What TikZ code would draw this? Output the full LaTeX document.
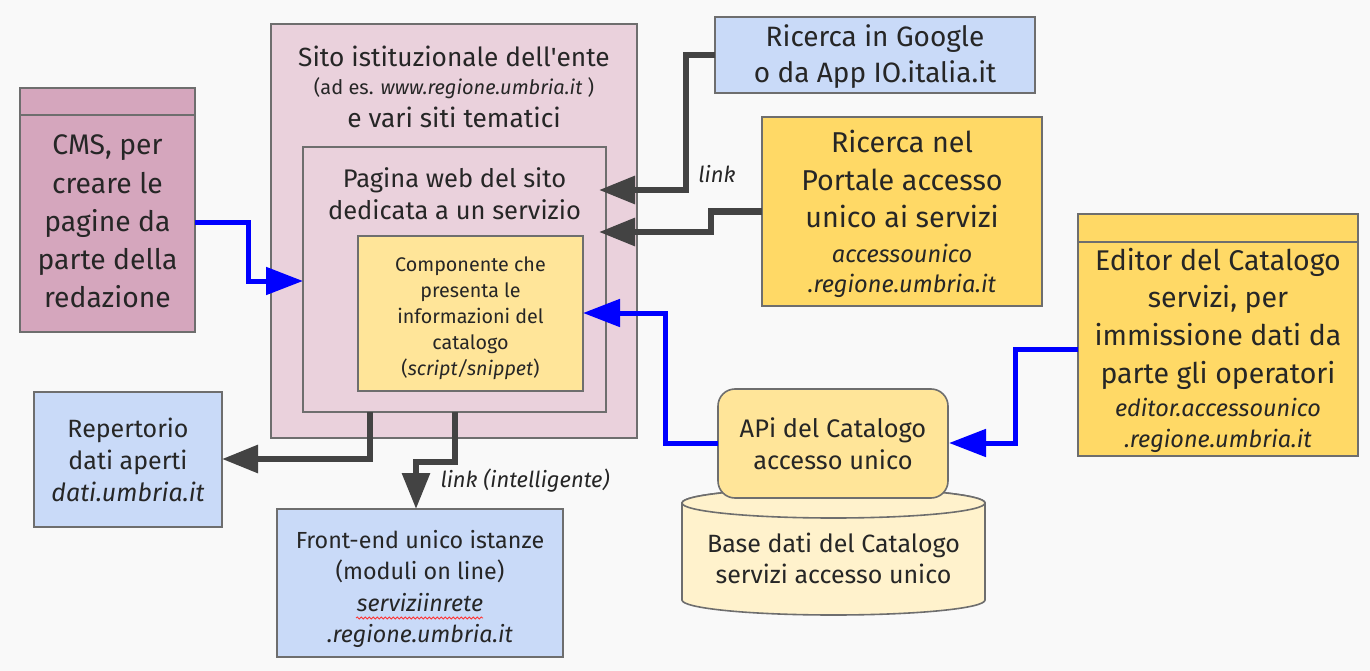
\documentclass[tikz,border=0pt]{standalone}
\usepackage{fontspec}
\setmainfont{Fira Sans}
\usetikzlibrary{arrows.meta,decorations.pathmorphing}
\definecolor{bg}{HTML}{F9F9F9}
\definecolor{mauve}{HTML}{D5A6BD}
\definecolor{pinkl}{HTML}{EAD1DC}
\definecolor{yel}{HTML}{FFE599}
\definecolor{yelm}{HTML}{FFD966}
\definecolor{yell}{HTML}{FFF2CC}
\definecolor{bluel}{HTML}{C9DAF8}
\definecolor{edge}{HTML}{6E6E6E}
\definecolor{ink}{HTML}{262626}
\definecolor{linkgray}{HTML}{434343}
\definecolor{linkblue}{HTML}{0000FF}
\newcommand\ml[3]{{\fontsize{#1}{#2}\selectfont\setlength\tabcolsep{0pt}\renewcommand\arraystretch{1}\begin{tabular}[t]{c}#3\end{tabular}}}
\newcommand\fs[1]{\fontsize{#1}{#1}\selectfont}
\begin{document}
\begin{tikzpicture}[x=1pt,y=-1pt,
  box/.style={draw=edge, line width=1.6pt, inner sep=0pt, outer sep=0pt, anchor=north west},
  txt/.style={text=ink, inner sep=0pt, outer sep=0pt, anchor=base},
  grayarrow/.style={draw=linkgray, line width=6pt, line join=miter, -{Triangle[length=36pt,width=27pt]}},
  bluearrow/.style={draw=linkblue, line width=5pt, line join=miter, -{Triangle[length=37pt,width=27pt]}}]
\useasboundingbox[fill=bg] (0,0) rectangle (1370,671);

% boxes
\node[box, fill=pinkl, minimum width=366pt, minimum height=414pt] (sito) at (271,24) {};
\node[box, fill=pinkl, minimum width=303pt, minimum height=265pt] (pagina) at (303,147) {};
\node[box, fill=yel, minimum width=225pt, minimum height=155pt] (comp) at (358,236) {};
\node[box, fill=mauve, minimum width=175pt, minimum height=244pt] (cms) at (20,88) {};
\draw[draw=edge, line width=1.6pt] ([yshift=-27pt]cms.north west) -- ([yshift=-27pt]cms.north east);
\node[box, fill=bluel, minimum width=320pt, minimum height=76pt] (google) at (715,17) {};
\node[box, fill=yelm, minimum width=280pt, minimum height=189pt] (portale) at (762,117) {};
\node[box, fill=yelm, minimum width=280pt, minimum height=242pt] (editor) at (1078,214) {};
\draw[draw=edge, line width=1.6pt] ([yshift=-28pt]editor.north west) -- ([yshift=-28pt]editor.north east);
\node[box, fill=bluel, minimum width=188pt, minimum height=135pt] (repertorio) at (34,392) {};
\node[box, fill=bluel, minimum width=286pt, minimum height=148pt] (frontend) at (277,509) {};

% database cylinder
\path[fill=yell, draw=edge, line width=1.6pt] (682,503) -- (682,600)
  arc[start angle=180, end angle=360, x radius=151.5pt, y radius=15pt] -- (985,503)
  arc[start angle=0, end angle=180, x radius=151.5pt, y radius=15pt] -- cycle;
\draw[fill=yell, draw=edge, line width=1.6pt] (833.5,503) ellipse[x radius=151.5pt, y radius=15pt];
\node[box, fill=yel, rounded corners=17pt, minimum width=230pt, minimum height=109pt] (api) at (718,389) {};

% texts
\node[txt] (sito1) at (454,67) {\fs{26.3}Sito istituzionale dell\textquotesingle ente};
\node[txt] (sito2) at (454,95) {\fs{20}(ad es. \textit{www.regione.umbria.it} )};
\node[txt] (sito3) at (454,128) {\fs{26.3}e vari siti tematici};
\node[txt] (paginatext) at (454.5,188) {\ml{25.5}{32}{Pagina web del sito\\dedicata a un servizio}};
\node[txt] (comptext) at (470.5,271) {\ml{19.7}{26}{Componente che\\presenta le\\informazioni del\\catalogo\\(\textit{script/snippet})}};
\node[txt] (cmstext) at (107.5,155) {\ml{28.3}{38.25}{CMS, per\\creare le\\pagine da\\parte della\\redazione}};
\node[txt] (googletext) at (875,47) {\ml{28}{36}{Ricerca in Google\\o da App IO.italia.it}};
\node[txt] (portaletext) at (902,153) {\ml{28.7}{37.5}{Ricerca nel\\Portale accesso\\unico ai servizi\\[-2.5pt]{\fs{23.6}\itshape accessounico}\\[-7.5pt]{\fs{23.6}\itshape .regione.umbria.it}}};
\node[txt] (editortext) at (1218,270) {\ml{28.5}{37.7}{Editor del Catalogo\\servizi, per\\immissione dati da\\parte gli operatori\\[-4.7pt]{\fs{23.5}\itshape editor.accessounico}\\[-6.7pt]{\fs{23.5}\itshape .regione.umbria.it}}};
\node[txt] (repertoriotext) at (128,437) {\ml{25}{32}{Repertorio\\dati aperti\\\textit{dati.umbria.it}}};
\node[txt] (frontendtext) at (420,548) {\ml{23.3}{31.5}{Front-end unico istanze\\(moduli on line)\\\textit{serviziinrete}\\\textit{.regione.umbria.it}}};
\node[txt] (apitext) at (833,437) {\ml{25.4}{32}{APi del Catalogo\\accesso unico}};
\node[txt] (dbtext) at (833.5,552) {\ml{25}{31}{Base dati del Catalogo\\servizi accesso unico}};
\node[txt] (link1) at (717,183) {\fs{22}\itshape link};
\node[txt] (link2) at (525,487) {\fs{22}\itshape link (intelligente)};
\draw[red!80, line width=0.8pt, decorate, decoration={snake, amplitude=1pt, segment length=4pt}] (356,618) -- (483,618);

% connectors
\draw[bluearrow] ([yshift=-12pt]cms.east) -| (248,281) -- (pagina.west |- 0,281);
\draw[grayarrow] (google.west) -| (686,190) -- ([xshift=-7pt]pagina.east |- 0,190);
\draw[grayarrow] (portale.west) -| (711,232) -- ([xshift=-7pt]pagina.east |- 0,232);
\draw[bluearrow] (api.west) -| (665,313) -- (comp.east |- 0,313);
\draw[bluearrow] ([yshift=-14pt]editor.west) -| (1015,443) -- ([xshift=1pt]api.east |- 0,443);
\draw[grayarrow] (pagina.south -| 370,0) |- (repertorio.east |- 0,459);
\draw[grayarrow] (pagina.south -| 455,0) |- (416,462) -- (frontend.north -| 416,0);
\end{tikzpicture}
\end{document}
